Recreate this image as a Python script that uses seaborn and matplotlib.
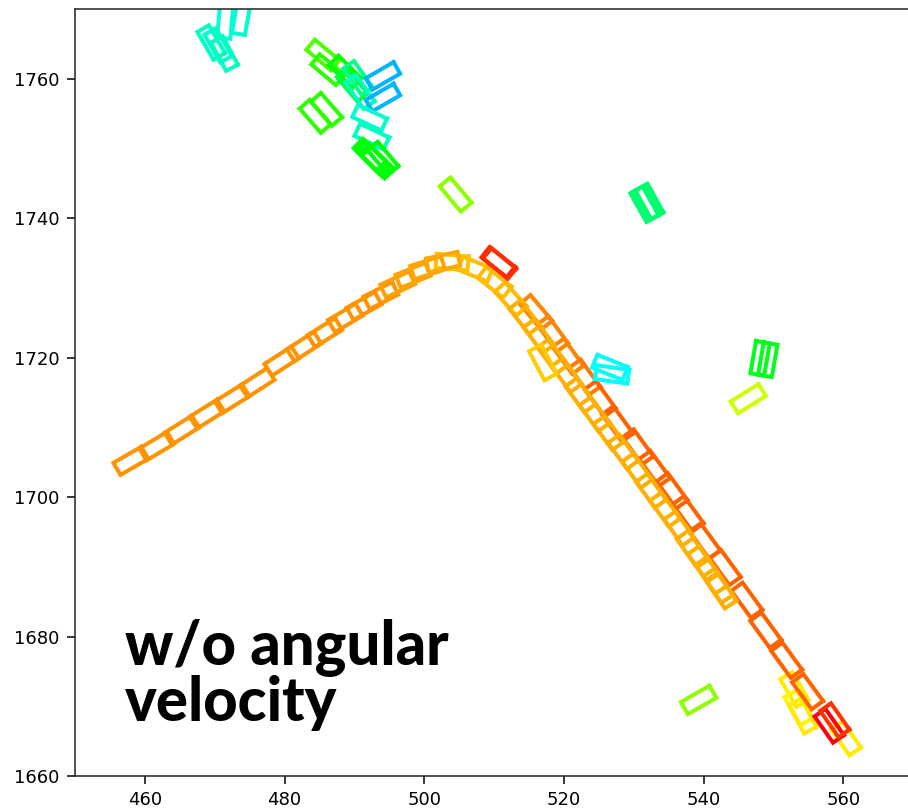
import numpy as np
import pandas as pd
import matplotlib
matplotlib.use("Agg")
import matplotlib.pyplot as plt
import seaborn as sns

# ---------------- data ----------------
# each box: centre x, centre y, heading (deg), colour value (gist_rainbow)
# ascending orange track
asc_x = [458.0, 461.7, 465.3, 468.9, 472.5, 476.1, 479.6, 482.8, 485.8, 488.7,
         491.4, 493.8, 496.2, 498.4, 500.5, 502.7]
asc_y = [1705.2, 1707.3, 1709.6, 1711.9, 1714.1, 1716.4, 1719.5, 1721.6, 1723.6,
         1725.7, 1727.4, 1728.9, 1730.5, 1731.8, 1732.9, 1733.7]
asc_h = [30, 31, 32, 32, 32, 33, 33, 33, 32, 31, 29, 27, 25, 22, 18, 12]
asc_t = [0.14] * 12 + [0.145, 0.15, 0.15, 0.155]

# descending yellow-orange track
yel_x = [504.0, 507.3, 510.1, 512.4, 514.4, 516.4, 518.4, 520.4, 522.4, 524.4,
         526.4, 528.5, 530.5, 532.5, 534.5, 536.5, 538.3, 539.9, 541.2, 542.1, 542.6]
yel_y = [1733.7, 1732.7, 1730.8, 1728.4, 1725.8, 1723.1, 1720.2, 1717.5, 1714.6,
         1711.9, 1709.2, 1706.5, 1703.8, 1700.9, 1698.2, 1695.5, 1692.7, 1690.5,
         1688.6, 1687.3, 1686.5]
yel_h = [-5, -22, -38, -48, -52, -53, -54, -54, -54, -54, -54, -54, -54, -54,
         -54, -55, -55, -55, -56, -56, -56]
yel_t = [0.175, 0.17, 0.17, 0.165] + [0.16] * 17

# descending orange-red track
ora_x = [516.0, 518.4, 520.6, 523.0, 525.2, 527.7, 530.6, 533.0, 535.5, 537.8,
         540.2, 543.1, 546.2, 548.9, 551.9, 554.9]
ora_y = [1726.5, 1723.4, 1720.2, 1717.2, 1714.1, 1710.5, 1707.2, 1704.1, 1700.9,
         1697.6, 1693.7, 1689.9, 1685.2, 1680.9, 1676.6, 1672.1]
ora_h = [-50] + [-54] * 15
ora_t = [0.125, 0.125, 0.125, 0.12] + [0.105] * 12

# yellow boxes at the lower end
ye_x = [553.0, 553.6, 554.2, 560.4]
ye_y = [1672.4, 1669.8, 1668.6, 1665.4]
ye_h = [-60, -60, -62, -55]
ye_t = [0.20, 0.21, 0.20, 0.20]

# red boxes
red_x = [558.0, 558.8, 510.6, 510.8]
red_y = [1667.2, 1668.0, 1733.7, 1733.5]
red_h = [-55, -55, -38, -40]
red_t = [0.02, 0.07, 0.06, 0.065]

# stray / isolated boxes
iso_x = [517.0, 504.5, 531.55, 531.9, 532.25, 526.6, 526.9, 548.1, 549.2, 546.4, 539.3]
iso_y = [1719.3, 1743.4, 1742.0, 1742.2, 1742.4, 1718.6, 1717.6, 1719.9, 1719.7, 1714.1, 1670.9]
iso_h = [-62, -50, -61, -61, -61, -22, -8, 80, 80, 32, 30]
iso_t = [0.18, 0.30, 0.48, 0.485, 0.48, 0.58, 0.585, 0.42, 0.42, 0.25, 0.30]

# upper cluster (green / turquoise / light blue)
clu_x = [485.5, 486.2, 488.7, 489.7, 490.5, 490.8, 494.1, 494.1, 492.2, 492.5,
         492.2, 492.6, 493.0, 493.4, 494.1, 484.4, 486.0]
clu_y = [1763.4, 1761.3, 1761.0, 1759.1, 1760.1, 1758.1, 1760.4, 1757.3, 1754.4,
         1751.7, 1749.1, 1748.7, 1748.3, 1748.0, 1748.6, 1754.6, 1755.6]
clu_h = [-40, -40, -45, -50, -55, -55, 30, 30, -25, -25, -45, -45, -45, -45, -50, -49, -49]
clu_t = [0.34, 0.37, 0.40, 0.44, 0.50, 0.54, 0.64, 0.64, 0.55, 0.54,
         0.41, 0.41, 0.40, 0.40, 0.41, 0.37, 0.37]

# top-left turquoise cluster
cya_x = [473.8, 471.5, 469.5, 470.5, 471.4]
cya_y = [1768.7, 1768.1, 1765.2, 1764.8, 1763.6]
cya_h = [80, 85, -60, -60, -62]
cya_t = [0.55, 0.56, 0.54, 0.55, 0.54]

# box sizes per group (length, width) in data units
groups = [
    ("ye", ye_x, ye_y, ye_h, ye_t, 4.6, 2.0),
    ("ora", ora_x, ora_y, ora_h, ora_t, 4.8, 2.0),
    ("yel", yel_x, yel_y, yel_h, yel_t, 4.6, 2.0),
    ("asc", asc_x, asc_y, asc_h, asc_t, 4.6, 2.0),
    ("red", red_x, red_y, red_h, red_t, 4.6, 1.9),
    ("iso", iso_x, iso_y, iso_h, iso_t, 4.7, 2.0),
    ("clu", clu_x, clu_y, clu_h, clu_t, 4.6, 1.9),
    ("cya", cya_x, cya_y, cya_h, cya_t, 4.6, 1.9),
]

x_ticks = [460, 480, 500, 520, 540, 560]
y_ticks = [1660, 1680, 1700, 1720, 1740, 1760]

# ---------------- build outlines ----------------
cmap = matplotlib.colormaps["gist_rainbow"]
rows = []
palette = {}
order = []
for name, xs, ys, hs, ts, L, W in groups:
    for i, (cx, cy, h, t) in enumerate(zip(xs, ys, hs, ts)):
        bid = f"{name}{i}"
        a = np.deg2rad(h)
        u = np.array([np.cos(a), np.sin(a)]) * L / 2
        v = np.array([-np.sin(a), np.cos(a)]) * W / 2
        c = np.array([cx, cy])
        corners = [c + u + v, c - u + v, c - u - v, c + u - v, c + u + v]
        for k, p in enumerate(corners):
            rows.append({"box": bid, "k": k, "x": p[0], "y": p[1]})
        palette[bid] = cmap(t)
        order.append(bid)
df = pd.DataFrame(rows)

# ---------------- plot ----------------
sns.set_style("ticks")
plt.rcParams["font.family"] = ["DejaVu Sans"]

fig = plt.figure(figsize=(9.08, 8.09), dpi=100)
ax = fig.add_axes([75 / 908, 33 / 809, 838 / 908, 767 / 809])

sns.lineplot(data=df, x="x", y="y", hue="box", hue_order=order, palette=palette,
             sort=False, estimator=None, legend=False, ax=ax, lw=2.9,
             solid_joinstyle="miter", solid_capstyle="projecting")

ax.set_xlim(450, 570)
ax.set_ylim(1660, 1770)
ax.set_xticks(x_ticks)
ax.set_yticks(y_ticks)
ax.set_xlabel("")
ax.set_ylabel("")
ax.tick_params(labelsize=13, length=6, width=1.1, colors="black", pad=5)
for s in ax.spines.values():
    s.set_linewidth(1.1)
    s.set_color("#222222")

ax.text(457.2, 1675.9, "w/o angular", fontsize=43, fontweight="black",
        family=["Lato", "DejaVu Sans"], color="black", va="baseline", ha="left")
ax.text(457.2, 1667.9, "velocity", fontsize=43, fontweight="black",
        family=["Lato", "DejaVu Sans"], color="black", va="baseline", ha="left")

fig.savefig("out.png", dpi=100)
